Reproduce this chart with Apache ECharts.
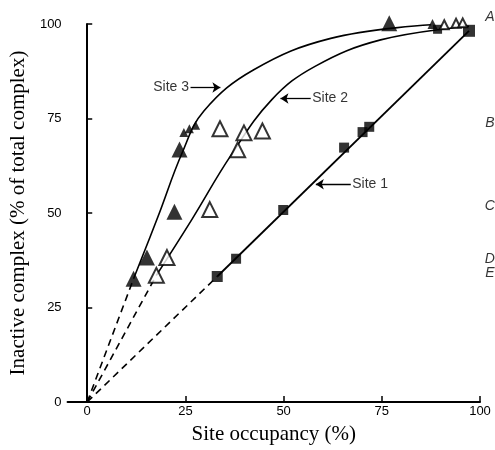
<!DOCTYPE html>
<html>
<head>
<meta charset="utf-8">
<script src="https://cdn.jsdelivr.net/npm/echarts@6/dist/echarts.min.js"></script>
<style>html,body{margin:0;padding:0;background:#fff}#c{width:495px;height:450px}</style>
</head>
<body>
<div id="c"></div>
<script>
// ---- data ----
const xTicks = [0, 25, 50, 75, 100];
const site1Points = [[33.1,33.2],[37.9,37.9],[49.9,50.8],[65.4,67.3],[70.1,71.4],[71.8,72.8],[89.2,98.6],[97.2,98.2]];
const site2Points = [[17.6,33.5],[20.3,38.2],[31.2,50.9],[33.8,72.3],[38.3,66.7],[39.9,71.2],[44.6,71.7],[90.9,99.8],[93.9,100.2],[95.6,100.3]];
const site3Points = [[11.8,32.6],[15.2,38.2],[22.2,50.3],[23.5,66.8],[24.6,71.3],[26.0,72.3],[27.6,73.2],[76.9,100.2],[87.9,100.0]];
const site1Line = [[33.1,33.2],[97.2,98.2]];
const site2Curve = [[17.6,33.5],[26.7,48.4],[36.5,65.1],[47,80],[58,88.8],[74.7,95.8],[97.2,99.4]];
const site3Curve = [[11.8,32.6],[18,49],[24.2,66],[29.7,77],[42.4,87.9],[62,96.2],[87.5,99.8]];
const site1Dash = [[0,0],[33.1,33.2]];
const site2Dash = [[0,0],[17.6,33.5]];
const site3Dash = [[0,0],[11.8,32.6]];
const sideLabels = ['A','B','C','D','E'];
const sideLabelLevels = [101.8, 73.9, 51.8, 37.9, 34.0];
const siteNames = ['Site 1','Site 2','Site 3'];
const arrowTails = [[67.1,57.6],[56.9,80.3],[26.3,83.2]];
const arrowHeads = [[58.2,57.6],[49.2,80.3],[33.9,83.2]];

// ---- styling ----
const site1Sizes = [11,10,10,10,10,10,9,12];
const site2Sizes = [15,15,15,15,15,15,15,9,9,9];
const site3Sizes = [16,16,16,16,9,9,9,16,10];
const sans = 'Liberation Sans';
const serif = 'Liberation Serif';

function sized(points, sizes) {
  return points.map((p, i) => ({ value: p, symbolSize: sizes[i] }));
}
function lineSeries(data, dashed, width) {
  return {
    type: 'line', data: data, symbol: 'none', smooth: dashed ? false : 0.4,
    clip: false, silent: true, z: 2,
    lineStyle: { color: '#000', width: width, type: dashed ? [7, 5] : 'solid' }
  };
}

const chart = echarts.init(document.getElementById('c'), null, { renderer: 'canvas' });
const option = {
  animation: false,
  backgroundColor: '#fff',
  grid: { left: 67, right: 15, top: 24, bottom: 46 },
  xAxis: {
    type: 'value', min: -5, max: 100,
    name: 'Site occupancy (%)', nameLocation: 'middle', nameGap: 22,
    nameTextStyle: { fontFamily: serif, fontSize: 21, color: '#000' },
    axisLine: { show: true, lineStyle: { color: '#000', width: 2 } },
    axisTick: { show: true, inside: true, length: 6, customValues: xTicks, lineStyle: { color: '#000', width: 1.5 } },
    axisLabel: { customValues: xTicks, fontFamily: sans, fontSize: 13, color: '#000', margin: 3 },
    splitLine: { show: false }
  },
  yAxis: {
    type: 'value', min: 0, max: 100, interval: 25,
    name: 'Inactive complex (% of total complex)', nameLocation: 'middle', nameGap: 37,
    nameTextStyle: { fontFamily: serif, fontSize: 21, color: '#000' },
    axisLine: { show: true, lineStyle: { color: '#000', width: 2 } },
    axisTick: { show: true, inside: true, length: 5, lineStyle: { color: '#000', width: 1.5 } },
    axisLabel: { fontFamily: sans, fontSize: 13, color: '#000', margin: 6 },
    splitLine: { show: false }
  },
  series: [
    lineSeries(site1Dash, true, 1.6),
    lineSeries(site2Dash, true, 1.6),
    lineSeries(site3Dash, true, 1.6),
    lineSeries(site1Line, false, 1.8),
    lineSeries(site2Curve, false, 1.6),
    lineSeries(site3Curve, false, 1.6),
    {
      type: 'scatter', name: 'Site 1', symbol: 'rect', clip: false, z: 5,
      data: sized(site1Points, site1Sizes),
      itemStyle: { color: '#000' }
    },
    {
      type: 'scatter', name: 'Site 2', symbol: 'triangle', clip: false, z: 5,
      data: sized(site2Points, site2Sizes),
      itemStyle: { color: '#fff', borderColor: '#000', borderWidth: 2 }
    },
    {
      type: 'scatter', name: 'Site 3', symbol: 'triangle', clip: false, z: 6,
      data: sized(site3Points, site3Sizes),
      itemStyle: { color: '#000' }
    },
    {
      type: 'scatter', symbol: 'circle', symbolSize: 1, clip: false, silent: true, z: 7,
      itemStyle: { color: 'rgba(0,0,0,0)' },
      data: sideLabels.map((t, i) => ({ value: [102.5, sideLabelLevels[i]], name: t })),
      label: { show: true, position: 'inside', formatter: p => p.name, fontFamily: sans, fontStyle: 'italic', fontSize: 14, color: '#000' }
    },
    {
      type: 'scatter', symbol: 'circle', symbolSize: 1, clip: false, silent: true, z: 7,
      itemStyle: { color: 'rgba(0,0,0,0)' },
      data: siteNames.map((t, i) => ({
        value: arrowTails[i], name: t,
        label: { position: i === 2 ? 'left' : 'right', distance: 1 }
      })),
      label: { show: true, formatter: p => p.name, fontFamily: sans, fontSize: 14, color: '#000' },
      markLine: {
        silent: true, symbol: ['none', 'arrow'], symbolSize: 8,
        lineStyle: { color: '#000', width: 1.3, type: 'solid' },
        label: { show: false },
        data: arrowTails.map((t, i) => [{ coord: t }, { coord: arrowHeads[i] }])
      }
    }
  ]
};
chart.setOption(option);
</script>
</body>
</html>
